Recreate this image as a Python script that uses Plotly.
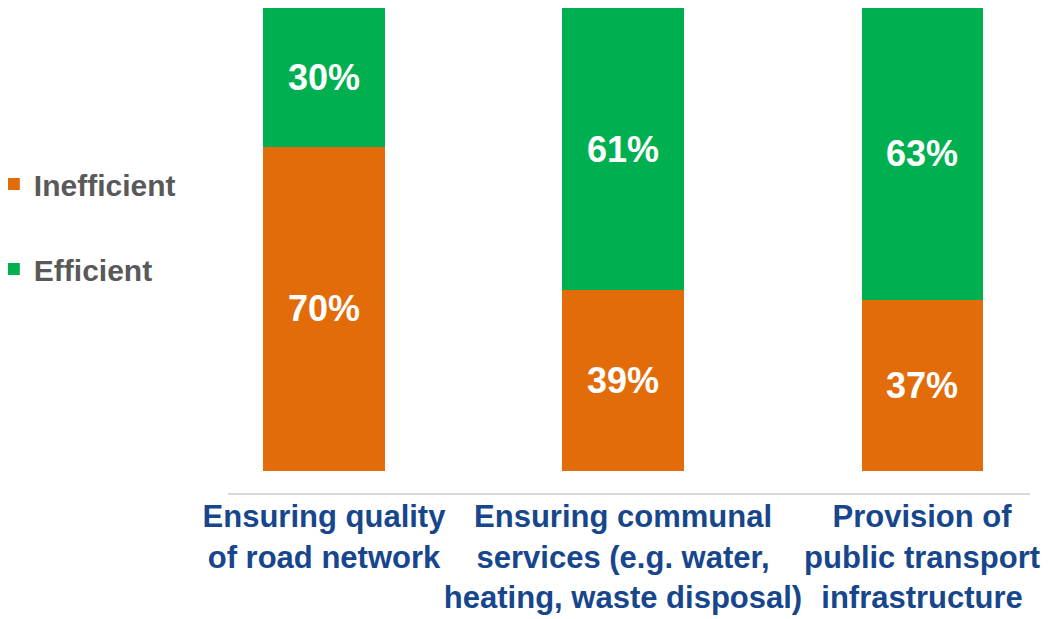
import plotly.graph_objects as go

categories = [
    "Ensuring quality<br>of road network",
    "Ensuring communal<br>services (e.g. water,<br>heating, waste disposal)",
    "Provision of<br>public transport<br>infrastructure",
]
inefficient = [70, 39, 37]
efficient = [30, 61, 63]

ORANGE = "#E36C0A"
GREEN = "#00B050"
BLUE = "#17468C"

label_font = dict(color="white", size=36, family="Liberation Sans, Arial, sans-serif", weight="bold")

fig = go.Figure()
fig.add_trace(go.Bar(
    x=categories, y=inefficient, name="Inefficient",
    marker=dict(color=ORANGE, line=dict(width=0)),
    text=[f"{v}%" for v in inefficient], textposition="inside",
    insidetextanchor="middle", textfont=label_font,
    legendgroup="a",
))
fig.add_trace(go.Bar(
    x=categories, y=efficient, name="Efficient",
    marker=dict(color=GREEN, line=dict(width=0)),
    text=[f"{v}%" for v in efficient], textposition="inside",
    insidetextanchor="middle", textfont=label_font,
    legendgroup="b",
))

fig.update_layout(
    barmode="stack",
    bargap=0.595,
    width=1044, height=611,
    margin=dict(l=220, r=22, t=0, b=126, autoexpand=False),
    paper_bgcolor="white", plot_bgcolor="white",
    showlegend=True,
    legend=dict(
        xref="paper", yref="paper",
        x=-0.292, y=1 - 150 / 485, xanchor="left", yanchor="top",
        traceorder="grouped", tracegroupgap=43,
        font=dict(size=30, color="#595959", family="Liberation Sans, Arial, sans-serif", weight="bold"),
        bgcolor="rgba(0,0,0,0)",
    ),
    xaxis=dict(
        range=[-0.321, 2.361],
        showline=True, linecolor="#D9D9D9", linewidth=2,
        ticks="", showgrid=False, tickangle=0, ticklabelstandoff=-5,
        tickfont=dict(size=31, color=BLUE, family="Liberation Sans Narrow, Arial Narrow, sans-serif", weight="bold"),
    ),
    yaxis=dict(
        range=[-4.75, 100], visible=False, showgrid=False, zeroline=False,
    ),
)

fig.write_html("out.html")
